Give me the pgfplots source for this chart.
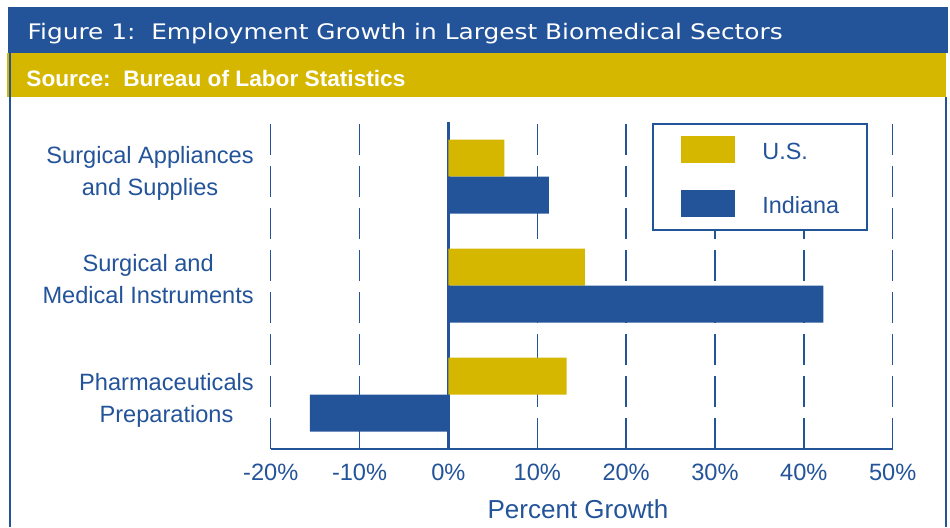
\documentclass[border=0pt]{standalone}
\usepackage{pgfplots}
\pgfplotsset{compat=1.18}
\usepackage{fontspec}
\setmainfont{Liberation Sans}
\newfontfamily\titlefont{DejaVu Sans}
\usepackage{graphicx}
\definecolor{cblue}{RGB}{35,83,153}
\definecolor{cgold}{RGB}{214,183,0}
\begin{document}
\begin{tikzpicture}
\path[use as bounding box] (0,0) rectangle (475pt,263.5pt);
\fill[cblue] (4pt,237.15pt) rectangle (474pt,260pt);
\fill[cgold] (3.35pt,215.15pt) rectangle (473pt,237.15pt);
\draw[cblue, line width=1.3pt] (5pt,0pt) -- (5pt,237pt);
\draw[cblue, line width=1pt] (473pt,0pt) -- (473pt,215.15pt);
\node[anchor=base west, inner sep=0pt, text=white] at (13.65pt,243.85pt) {\resizebox{377.5pt}{\height}{\titlefont\fontsize{10.7}{12}\selectfont Figure 1:\ \ Employment Growth in Largest Biomedical Sectors}};
\node[anchor=base west, inner sep=0pt, text=white] at (13pt,220.5pt) {\resizebox{189.5pt}{\height}{\bfseries\fontsize{11.2}{13}\selectfont Source:\ \ Bureau of Labor Statistics}};
\begin{axis}[
  at={(135.35pt,39pt)}, anchor=south west,
  scale only axis, width=311pt, height=163.5pt,
  xbar, bar width=18.5pt,
  xmin=-20, xmax=50, ymin=-0.5, ymax=2.5,
  xtick={-20,-10,0,10,20,30,40,50},
  xticklabels={-20\%,-10\%,0\%,10\%,20\%,30\%,40\%,50\%},
  ytick={-0.055,1.055,2.028},
  yticklabels={{Pharmaceuticals\\Preparations},{Surgical and\\Medical Instruments},{Surgical Appliances\\and Supplies}},
  axis x line*=bottom, axis y line*=left,
  x axis line style={cblue, line width=1pt},
  y axis line style={draw=none},
  major tick length=0pt, tick style={draw=none},
  xmajorgrids, grid style={cblue, line width=0.75pt, dash pattern=on 15.5pt off 5.5pt},
  extra x ticks={0}, extra x tick labels={},
  extra x tick style={grid style={cblue, solid, line width=1.5pt}},
  tick label style={font=\fontsize{11.8}{16}\selectfont, text=cblue},
  xticklabel style={anchor=base, inner sep=0pt, yshift=-15.75pt},
  yticklabel style={align=center, anchor=east, inner sep=0pt, xshift=-8.3pt},
  xlabel={Percent Growth},
  xlabel style={at={(axis description cs:0.494,0)}, anchor=base, inner sep=0pt, yshift=-34.65pt, font=\fontsize{13}{15}\selectfont, text=cblue},
  legend style={at={(rel axis cs:0.6125,0.998)}, anchor=north west, draw=cblue, line width=1pt, fill=white, inner xsep=14pt, inner ysep=6.4pt, font=\fontsize{11.7}{14}\selectfont, text=cblue, row sep=13.5pt, column sep=13.85pt, nodes={inner sep=0pt}},
  legend cell align=left,
]
\addplot[fill=cgold, draw=none, bar shift=9.25pt, legend image code/.code={\fill[cgold] (0pt,-5.5pt) rectangle (27pt,8pt);}] coordinates {(6.3,2) (15.35,1) (13.3,0)};
\addplot[fill=cblue, draw=none, bar shift=-9.25pt, legend image code/.code={\fill[cblue] (0pt,-5.5pt) rectangle (27pt,8pt);}] coordinates {(11.3,2) (42.2,1) (-15.6,0)};
\legend{U.S., Indiana}
\end{axis}
\end{tikzpicture}
\end{document}
